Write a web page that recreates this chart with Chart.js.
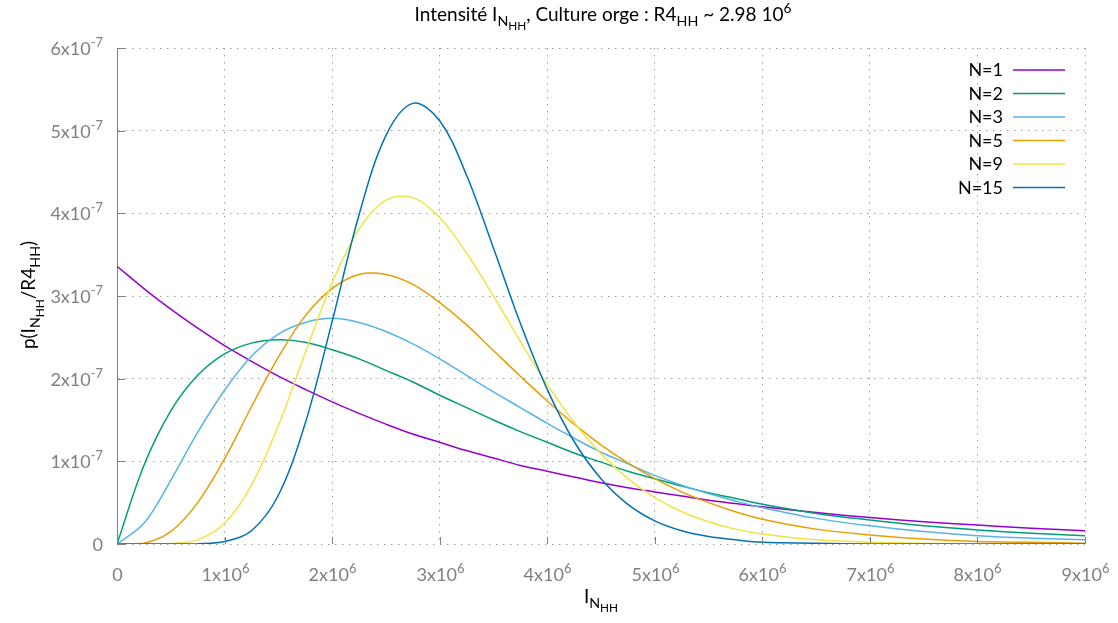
<!DOCTYPE html>
<html>
<head>
<meta charset="utf-8">
<script src="https://cdn.jsdelivr.net/npm/chart.js@4.4.1/dist/chart.umd.min.js"></script>
<style>
  html, body { margin: 0; background: #fff; }
  #wrap { width: 1118px; height: 623px; }
</style>
</head>
<body>
<div id="wrap"><canvas id="densite" width="1118" height="623"></canvas></div>
<script>
// abscisses, en unités de 10^6
const intensite = [0, 0.25, 0.5, 0.75, 1, 1.25, 1.5, 1.75, 2, 2.25, 2.5, 2.75, 3, 3.25, 3.5, 3.75,
                   4, 4.25, 4.5, 4.75, 5, 5.25, 5.5, 5.75, 6, 6.5, 7, 7.5, 8, 8.5, 9];

// densités, en unités de 10^-7
const n1  = [3.36, 3.09, 2.84, 2.61, 2.40, 2.21, 2.03, 1.87, 1.72, 1.58, 1.45, 1.33, 1.23, 1.13, 1.04, 0.95,
             0.88, 0.81, 0.74, 0.68, 0.63, 0.58, 0.53, 0.49, 0.45, 0.38, 0.32, 0.27, 0.23, 0.19, 0.16];
const n2  = [0, 0.95, 1.61, 2.04, 2.30, 2.43, 2.47, 2.44, 2.35, 2.24, 2.10, 1.96, 1.80, 1.65, 1.50, 1.36,
             1.23, 1.10, 0.99, 0.88, 0.79, 0.70, 0.62, 0.55, 0.48, 0.37, 0.29, 0.22, 0.17, 0.13, 0.10];
const n3  = [0, 0.25, 0.77, 1.35, 1.86, 2.27, 2.54, 2.68, 2.73, 2.68, 2.57, 2.42, 2.24, 2.04, 1.84, 1.65,
             1.46, 1.28, 1.11, 0.97, 0.83, 0.71, 0.61, 0.52, 0.44, 0.31, 0.22, 0.15, 0.10, 0.07, 0.05];
const n5  = [0, 0.01, 0.15, 0.50, 1.03, 1.66, 2.26, 2.76, 3.09, 3.26, 3.26, 3.14, 2.92, 2.65, 2.34, 2.03,
             1.73, 1.45, 1.20, 0.98, 0.79, 0.63, 0.50, 0.39, 0.30, 0.18, 0.11, 0.06, 0.03, 0.02, 0.01];
const n9  = [0, 0, 0.005, 0.05, 0.25, 0.71, 1.43, 2.31, 3.16, 3.81, 4.16, 4.19, 3.95, 3.52, 3.00, 2.45,
             1.93, 1.47, 1.09, 0.79, 0.56, 0.39, 0.27, 0.18, 0.12, 0.05, 0.02, 0.01, 0, 0, 0];
const n15 = [0, 0, 0, 0.002, 0.03, 0.16, 0.59, 1.46, 2.69, 3.98, 4.94, 5.33, 5.12, 4.46, 3.58, 2.67,
             1.87, 1.24, 0.79, 0.48, 0.28, 0.16, 0.09, 0.05, 0.02, 0.01, 0, 0, 0, 0, 0];

const series   = [n1, n2, n3, n5, n9, n15];
const noms     = ['N=1', 'N=2', 'N=3', 'N=5', 'N=9', 'N=15'];
const couleurs = ['#9400d3', '#009e73', '#56b4e9', '#e69f00', '#f0e442', '#0072b2'];

const xTicks = [0, 1, 2, 3, 4, 5, 6, 7, 8, 9];
const yTicks = [0, 1, 2, 3, 4, 5, 6];

const FONT = 'Lato, "Open Sans", sans-serif';
const GRIS = '#808080';

// niveaux de texte : normal, indice, indice d'indice, exposant
const niveaux = {
    n:    { k: 1,    dy: 0 },
    sub:  { k: 0.75, dy: 0.28 },
    sub2: { k: 0.62, dy: 0.48 },
    sup:  { k: 0.72, dy: -0.42 }
};

function largeur(ctx, parts, size) {
    let w = 0;
    for (const [t, n] of parts) {
        ctx.font = (size * niveaux[n].k) + 'px ' + FONT;
        w += ctx.measureText(t).width;
    }
    return w;
}

function texteRiche(ctx, parts, x, y, size, align, color) {
    const w = largeur(ctx, parts, size);
    let cx = align === 'right' ? x - w : align === 'center' ? x - w / 2 : x;
    ctx.fillStyle = color;
    ctx.textAlign = 'left';
    ctx.textBaseline = 'alphabetic';
    for (const [t, n] of parts) {
        const nv = niveaux[n];
        ctx.font = (size * nv.k) + 'px ' + FONT;
        ctx.fillText(t, cx, y + nv.dy * size);
        cx += ctx.measureText(t).width;
    }
}

function trait(ctx, x1, y1, x2, y2) {
    ctx.beginPath();
    ctx.moveTo(x1, y1);
    ctx.lineTo(x2, y2);
    ctx.stroke();
}

// --------- habillage façon gnuplot ---------
const habillage = {
    id: 'habillage',
    afterDraw(chart) {
        const { ctx, chartArea: a } = chart;
        const sx = chart.scales.x, sy = chart.scales.y;
        ctx.save();

        // graduations
        ctx.strokeStyle = GRIS;
        ctx.lineWidth = 1;
        xTicks.forEach(v => {
            const px = Math.round(sx.getPixelForValue(v)) + 0.5;
            trait(ctx, px, a.bottom, px, a.bottom - 7);
            const lab = v === 0 ? [['0', 'n']] : [[v + 'x10', 'n'], ['6', 'sup']];
            texteRiche(ctx, lab, px, a.bottom + 37, 18, 'center', GRIS);
        });
        yTicks.forEach(v => {
            const py = Math.round(sy.getPixelForValue(v)) + 0.5;
            trait(ctx, a.left, py, a.left + 8, py);
            const lab = v === 0 ? [['0', 'n']] : [[v + 'x10', 'n'], ['-7', 'sup']];
            texteRiche(ctx, lab, a.left - 14, py + 6, 18, 'right', GRIS);
        });

        // titre
        texteRiche(ctx, [['Intensité I', 'n'], ['N', 'sub'], ['HH', 'sub2'], [', Culture orge : R4', 'n'],
                         ['HH', 'sub'], [' ~ 2.98 10', 'n'], ['6', 'sup']],
                   603, 21, 19, 'center', '#000');

        // titres des axes
        texteRiche(ctx, [['I', 'n'], ['N', 'sub'], ['HH', 'sub2']], 601, 603, 19, 'center', '#000');
        ctx.save();
        ctx.translate(35, 295);
        ctx.rotate(-Math.PI / 2);
        texteRiche(ctx, [['p(I', 'n'], ['N', 'sub'], ['HH', 'sub2'], ['/R4', 'n'], ['HH', 'sub'], [')', 'n']],
                   0, 0, 19, 'center', '#000');
        ctx.restore();

        // légende
        noms.forEach((nom, i) => {
            const ly = 70 + i * 23.5;
            texteRiche(ctx, [[nom, 'n']], 1003, ly + 6, 18, 'right', '#000');
            ctx.strokeStyle = couleurs[i];
            ctx.lineWidth = 1.5;
            trait(ctx, 1013, ly, 1065, ly);
        });

        ctx.restore();
    }
};

const grille = { color: '#a0a0a0', lineWidth: 1, drawTicks: false };

new Chart(document.getElementById('densite'), {
    type: 'line',
    data: {
        datasets: series.map((vals, i) => ({
            label: noms[i],
            data: vals.map((v, j) => ({ x: intensite[j], y: v })),
            borderColor: couleurs[i],
            borderWidth: 1.5,
            pointRadius: 0,
            tension: 0.35,
            fill: false,
            order: series.length - i
        }))
    },
    options: {
        responsive: false,
        animation: false,
        layout: { padding: { left: 117, right: 33, top: 48, bottom: 79 } },
        plugins: { legend: { display: false }, tooltip: { enabled: false } },
        scales: {
            x: {
                type: 'linear', min: 0, max: 9,
                ticks: { display: false, stepSize: 1 },
                grid: grille,
                border: { display: false, dash: [1.5, 5.5] }
            },
            y: {
                type: 'linear', min: 0, max: 6,
                ticks: { display: false, stepSize: 1 },
                grid: grille,
                border: { display: true, color: GRIS, width: 1, dash: [1.5, 5.5] }
            }
        }
    },
    plugins: [habillage]
});
</script>
</body>
</html>
